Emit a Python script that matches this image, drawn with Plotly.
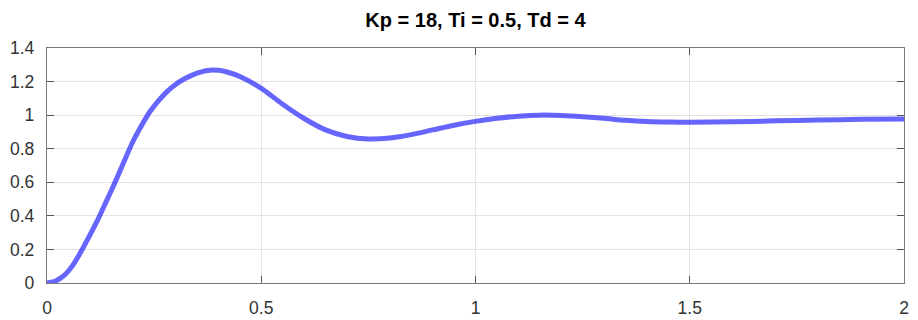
import plotly.graph_objects as go

title_text = "Kp = 18, Ti = 0.5, Td = 4"

t = [0.0, 0.02, 0.04, 0.06, 0.08, 0.10, 0.12, 0.14, 0.16, 0.18, 0.20, 0.22, 0.24,
     0.26, 0.28, 0.30, 0.32, 0.34, 0.36, 0.38, 0.40, 0.42, 0.45, 0.50, 0.55, 0.60,
     0.65, 0.70, 0.75, 0.80, 0.85, 0.90, 0.95, 1.00, 1.05, 1.10, 1.15, 1.20, 1.25,
     1.30, 1.35, 1.40, 1.45, 1.50, 1.60, 1.70, 1.80, 1.90, 2.00]
y = [0.0, 0.012, 0.045, 0.105, 0.19, 0.285, 0.385, 0.495, 0.607, 0.725, 0.84, 0.935, 1.02,
     1.085, 1.14, 1.183, 1.215, 1.24, 1.258, 1.268, 1.267, 1.257, 1.23, 1.16, 1.065, 0.98,
     0.912, 0.873, 0.858, 0.864, 0.884, 0.912, 0.94, 0.963, 0.981, 0.994, 1.0, 0.998, 0.991,
     0.981, 0.969, 0.962, 0.959, 0.958, 0.96, 0.966, 0.971, 0.975, 0.977]

x_ticks = [0, 0.5, 1, 1.5, 2]
x_labels = ["0", "0.5", "1", "1.5", "2"]
y_ticks = [0, 0.2, 0.4, 0.6, 0.8, 1.0, 1.2, 1.4]
y_labels = ["0", "0.2", "0.4", "0.6", "0.8", "1", "1.2", "1.4"]

fig = go.Figure()
fig.add_trace(go.Scatter(
    x=t, y=y, mode="lines",
    line=dict(color="rgba(20,20,255,0.65)", width=5, shape="spline", smoothing=0.8),
    showlegend=False, hoverinfo="skip",
))

axis_common = dict(
    showgrid=True, gridcolor="#e3e3e3", gridwidth=1,
    showline=True, linecolor="#7a7a7a", linewidth=1.3, mirror="ticks",
    ticks="inside", ticklen=7, tickcolor="#555555", tickwidth=1,
    zeroline=False, automargin=False,
    tickfont=dict(family="Liberation Sans, Arial, sans-serif", size=17.5, color="#333333"),
)

fig.update_layout(
    width=918, height=320,
    margin=dict(l=47, r=14, t=48, b=37),
    paper_bgcolor="white", plot_bgcolor="white",
    title=dict(
        text=title_text, x=0.5, xref="paper", xanchor="center",
        y=1 - 20 / 320, yref="container", yanchor="middle",
        font=dict(family="Liberation Sans, Arial, sans-serif", size=20, color="black", weight="bold"),
    ),
    xaxis=dict(range=[0, 2], tickvals=x_ticks, ticktext=x_labels, ticklabelstandoff=9, **axis_common),
    yaxis=dict(range=[0, 1.4], tickvals=y_ticks, ticktext=y_labels, ticklabelstandoff=8, **axis_common),
)

fig.write_html("out.html")
